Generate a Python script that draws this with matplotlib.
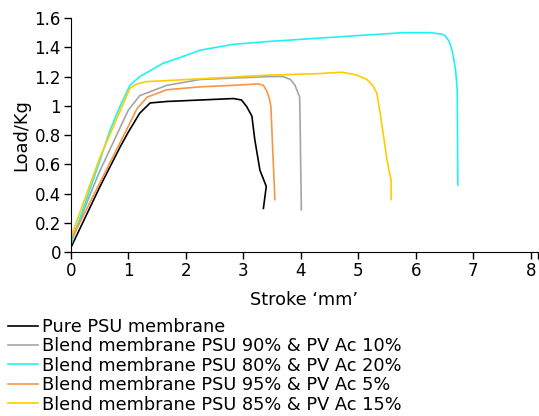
import matplotlib
matplotlib.use("Agg")
import matplotlib.pyplot as plt

plt.rcParams['font.family'] = ['DejaVu Sans']

# stroke (mm) / load (Kg)
pure_x = [0, 0.51, 0.86, 1.0, 1.2, 1.38, 1.67, 2.25, 2.83, 2.97, 3.06, 3.15, 3.2, 3.29, 3.40, 3.35]
pure_y = [0.03, 0.45, 0.72, 0.82, 0.95, 1.02, 1.03, 1.04, 1.05, 1.04, 0.995, 0.93, 0.77, 0.56, 0.45, 0.30]

psu90_x = [0, 0.5, 1.0, 1.2, 1.67, 2.25, 2.83, 3.45, 3.69, 3.82, 3.9, 3.98, 3.99, 4.0, 4.01]
psu90_y = [0.07, 0.55, 0.97, 1.07, 1.14, 1.18, 1.19, 1.20, 1.20, 1.18, 1.14, 1.06, 0.84, 0.55, 0.29]

psu80_x = [0, 0.51, 0.68, 0.85, 1.03, 1.2, 1.38, 1.6, 1.9, 2.25, 2.82, 3.45, 4.6, 5.78, 6.25, 6.45, 6.51, 6.58, 6.63, 6.69, 6.72, 6.73]
psu80_y = [0.05, 0.63, 0.83, 0.99, 1.14, 1.2, 1.24, 1.29, 1.33, 1.38, 1.42, 1.44, 1.47, 1.50, 1.50, 1.49, 1.48, 1.44, 1.38, 1.25, 1.11, 0.46]

psu95_x = [0, 0.68, 1.0, 1.15, 1.33, 1.67, 2.25, 2.82, 3.26, 3.35, 3.41, 3.46, 3.48, 3.51, 3.55]
psu95_y = [0.08, 0.61, 0.86, 0.98, 1.06, 1.11, 1.13, 1.14, 1.15, 1.14, 1.10, 1.04, 0.995, 0.72, 0.36]

psu85_x = [0, 0.51, 1.03, 1.15, 1.32, 1.55, 2.5, 3.45, 4.3, 4.72, 4.98, 5.15, 5.25, 5.32, 5.38, 5.50, 5.57, 5.57]
psu85_y = [0.1, 0.65, 1.12, 1.15, 1.166, 1.17, 1.19, 1.21, 1.22, 1.23, 1.21, 1.18, 1.14, 1.09, 0.95, 0.63, 0.49, 0.36]

labels = ['Pure PSU membrane',
          'Blend membrane PSU 90% & PV Ac 10%',
          'Blend membrane PSU 80% & PV Ac 20%',
          'Blend membrane PSU 95% & PV Ac 5%',
          'Blend membrane PSU 85% & PV Ac 15%']
colors = ['#000000', '#a5a5a5', '#1ff2f2', '#f79646', '#ffcc00']

x_ticks = [0, 1, 2, 3, 4, 5, 6, 7, 8]
y_ticks = [0, 0.2, 0.4, 0.6, 0.8, 1, 1.2, 1.4, 1.6]
y_ticklabels = ['0', '0.2', '0.4', '0.6', '0.8', '1', '1.2', '1.4', '1.6']
x_end = 8.12

fig = plt.figure(figsize=(5.39, 4.16), dpi=100)
ax = fig.add_axes([0.1312, 0.3935, 0.8665, 0.5632])

series = [(pure_x, pure_y), (psu90_x, psu90_y), (psu80_x, psu80_y),
          (psu95_x, psu95_y), (psu85_x, psu85_y)]
for (xs, ys), lab, c in zip(series, labels, colors):
    ax.plot(xs, ys, color=c, lw=1.2, label=lab, solid_joinstyle='round')

ax.set_xlim(0, x_end)
ax.set_ylim(0, 1.6)
ax.set_xticks(x_ticks)
ax.set_xticks([x_end], minor=True)
ax.set_yticks(y_ticks)
ax.set_yticklabels(y_ticklabels)
ax.tick_params(which='both', labelsize=12, length=5, width=1, direction='out', pad=2)
ax.spines['top'].set_visible(False)
ax.spines['right'].set_visible(False)
ax.set_xlabel("Stroke \u2018mm\u2019", fontsize=12.7, labelpad=8)
ax.set_ylabel('Load/Kg', fontsize=12.8, labelpad=3)

fig.legend(loc='upper left', bbox_to_anchor=(0.015, 0.236), frameon=False,
           fontsize=12.8, handlelength=1.7, handletextpad=0.22,
           labelspacing=0.08, borderaxespad=0, borderpad=0)

fig.savefig('out.png', dpi=100)
